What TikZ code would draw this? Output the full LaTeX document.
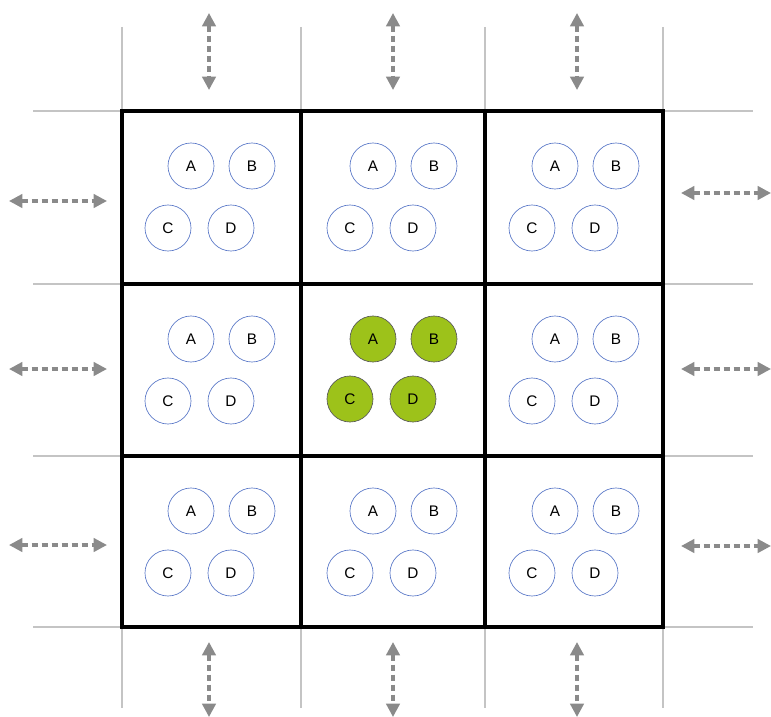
\documentclass[tikz,border=0pt]{standalone}
\usepackage{fontspec}
\setmainfont{Liberation Sans}
\usetikzlibrary{arrows.meta}
\definecolor{circblue}{HTML}{5A78C8}
\definecolor{gfill}{HTML}{9DC21A}
\definecolor{arrgray}{HTML}{8A8A8A}
\definecolor{linegray}{HTML}{C4C4C4}
\tikzset{
  pc/.style={circle, draw=circblue, line width=0.5pt, fill=white, minimum size=34.5pt, inner sep=0pt, font=\fontsize{11.5}{13}\selectfont},
  gc/.style={pc, draw=gray!70!black, fill=gfill},
  cellline/.style={line width=2.4pt, black},
  guide/.style={line width=1pt, linegray},
  darr/.style={line width=2.4pt, arrgray, dash pattern=on 4.5pt off 3pt, {Triangle[length=10pt,width=10pt]}-{Triangle[length=10pt,width=10pt]}}
}
\begin{document}
\begin{tikzpicture}[x=0.75pt,y=-0.75pt]
\useasboundingbox (0,0) rectangle (771,717);
% guide lines
\foreach \x in {122,301,485,663} {
  \draw[guide] (\x,27) -- (\x,111);
  \draw[guide] (\x,627) -- (\x,708);
}
\foreach \y in {111,284,456,627} {
  \draw[guide] (33,\y) -- (122,\y);
  \draw[guide] (663,\y) -- (753,\y);
}
% thick grid
\draw[cellline] (122,111) rectangle (663,627);
\draw[cellline] (301,111) -- (301,627);
\draw[cellline] (485,111) -- (485,627);
\draw[cellline] (122,284) -- (663,284);
\draw[cellline] (122,456) -- (663,456);
% circles
\foreach \cx/\cy/\n in {191/111/a,373/111/b,555/111/c,191/284/d,555/284/f,191/456/g,373/456/h,555/456/i} {
  \node[pc] (\n A) at (\cx,\cy+55) {A};
  \node[pc] (\n B) at (\cx+61,\cy+55) {B};
  \node[pc] (\n C) at (\cx-23,\cy+117) {C};
  \node[pc] (\n D) at (\cx+40,\cy+117) {D};
}
\node[gc] (eA) at (373,339) {A};
\node[gc] (eB) at (434,339) {B};
\node[gc] (eC) at (350,399) {C};
\node[gc] (eD) at (413,399) {D};
% arrows
\foreach \x/\n in {209/1,393/2,577/3} {
  \coordinate (t\n s) at (\x,13);
  \coordinate (t\n e) at (\x,90);
  \coordinate (b\n s) at (\x,642);
  \coordinate (b\n e) at (\x,717);
  \draw[darr] (t\n s) -- (t\n e);
  \draw[darr] (b\n s) -- (b\n e);
}
\foreach \y/\n in {201/1,369/2,545/3} {
  \coordinate (l\n s) at (9,\y);
  \coordinate (l\n e) at (107,\y);
  \draw[darr] (l\n s) -- (l\n e);
}
\foreach \y/\n in {193/1,369/2,546/3} {
  \coordinate (r\n s) at (681,\y);
  \coordinate (r\n e) at (771,\y);
  \draw[darr] (r\n s) -- (r\n e);
}
\end{tikzpicture}
\end{document}
